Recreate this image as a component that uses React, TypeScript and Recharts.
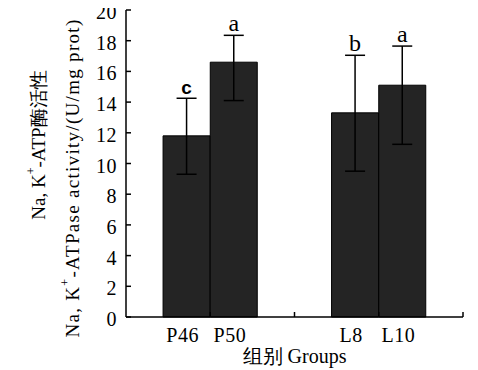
import React from 'react'
import {
  ComposedChart,
  Bar,
  ErrorBar,
  LabelList,
  XAxis,
  YAxis,
  Label,
} from 'recharts'

const groups = ['P46', 'P50', 'L8', 'L10']
const positions = [0.72, 1.28, 2.72, 3.28]
const activity = [11.8, 16.6, 13.3, 15.1]
const errLow = [2.5, 2.5, 3.8, 3.85]
const errHigh = [2.45, 1.75, 3.75, 2.55]
const letters = ['c', 'a', 'b', 'a']
const axisMarks = [1, 2, 3, 4]
const yTicks = [0, 2, 4, 6, 8, 10, 12, 14, 16, 18, 20]

const chartData = groups.map((g, i) => ({
  group: g,
  pos: positions[i],
  value: activity[i],
  err: [errLow[i], errHigh[i]],
  letter: letters[i],
}))

const FONT = 'Liberation Serif'

const XTick = (props: any) => {
  const { x, y, payload } = props
  const idx = positions.indexOf(payload.value)
  if (idx === -1) {
    return <line x1={x} y1={y} x2={x} y2={y - 5} stroke="#000" strokeWidth={1.5} />
  }
  return (
    <text x={x - 4} y={y + 25} textAnchor="middle" style={{ fontFamily: FONT }} fontSize={20} letterSpacing={0.5} fill="#000">
      {groups[idx]}
    </text>
  )
}

const YTick = (props: any) => {
  const { x, y, payload } = props
  return (
    <g>
      <line x1={x} y1={y} x2={x + 5} y2={y} stroke="#000" strokeWidth={1.5} />
      <text x={x - 9} y={y + 2} dy="0.35em" textAnchor="end" style={{ fontFamily: FONT }} fontSize={20} letterSpacing={0.5} fill="#000">
        {payload.value}
      </text>
    </g>
  )
}

// two-line rotated title, positions in chart coords (svg starts at page y=0, x=8)
const YTitle = () => (
  <g style={{ fontFamily: FONT }} fill="#000">
    <text transform="translate(30,145) rotate(-90)" textAnchor="middle" dominantBaseline="central" fontSize={19}>
      Na, K<tspan fontSize={12} dy={-7}>+</tspan>
      <tspan dy={7}>-ATP酶活性</tspan>
    </text>
    <text transform="translate(64,178) rotate(-90)" textAnchor="middle" dominantBaseline="central" fontSize={19} letterSpacing={1.3}>
      Na, K<tspan fontSize={12} dy={-7}>+</tspan>
      <tspan dy={7}>-ATPase activity/(U/mg prot)</tspan>
    </text>
  </g>
)

const renderLetter = (props: any) => {
  const { x, y, width, height, index } = props
  const d = chartData[index]
  const pxPerUnit = height / d.value
  const top = y - d.err[1] * pxPerUnit
  const isC = d.letter === 'c'
  return (
    <text
      x={x + width / 2}
      y={top - 4}
      textAnchor="middle"
      style={{ fontFamily: isC ? 'Liberation Sans' : FONT }}
      fontWeight={isC ? 'bold' : 'normal'}
      fontSize={isC ? 19 : 24}
      fill="#000"
    >
      {d.letter}
    </text>
  )
}

export default function App() {
  return (
    <div style={{ width: 470, height: 370, marginTop: -8, background: '#fff' }}>
      <ComposedChart
        width={470}
        height={370}
        data={chartData}
        margin={{ top: 10, right: 15, bottom: 0, left: 0 }}
        style={{ fontFamily: FONT }}
      >
        <XAxis
          type="number"
          dataKey="pos"
          domain={[0, 4]}
          ticks={[...positions, ...axisMarks].sort((a, b) => a - b)}
          interval={0}
          allowDecimals
          tickLine={false}
          tickSize={0}
          tickMargin={0}
          tick={<XTick />}
          axisLine={{ stroke: '#000', strokeWidth: 1.5 }}
          height={53}
        >
          <Label value="组别 Groups" position="insideBottom" offset={7} fontFamily={FONT} fontSize={20} fill="#000" />
        </XAxis>
        <YAxis
          domain={[0, 20]}
          ticks={yTicks}
          interval={0}
          width={118}
          tickLine={false}
          tickSize={0}
          tickMargin={0}
          tick={<YTick />}
          axisLine={{ stroke: '#000', strokeWidth: 1.5 }}
        >
          <Label content={<YTitle />} />
        </YAxis>
        <Bar dataKey="value" barSize={47} fill="#242424" stroke="#000" strokeWidth={1} isAnimationActive={false}>
          <ErrorBar dataKey="err" width={10} stroke="#000" strokeWidth={1.5} direction="y" />
          <LabelList dataKey="letter" content={renderLetter} />
        </Bar>
      </ComposedChart>
    </div>
  )
}
